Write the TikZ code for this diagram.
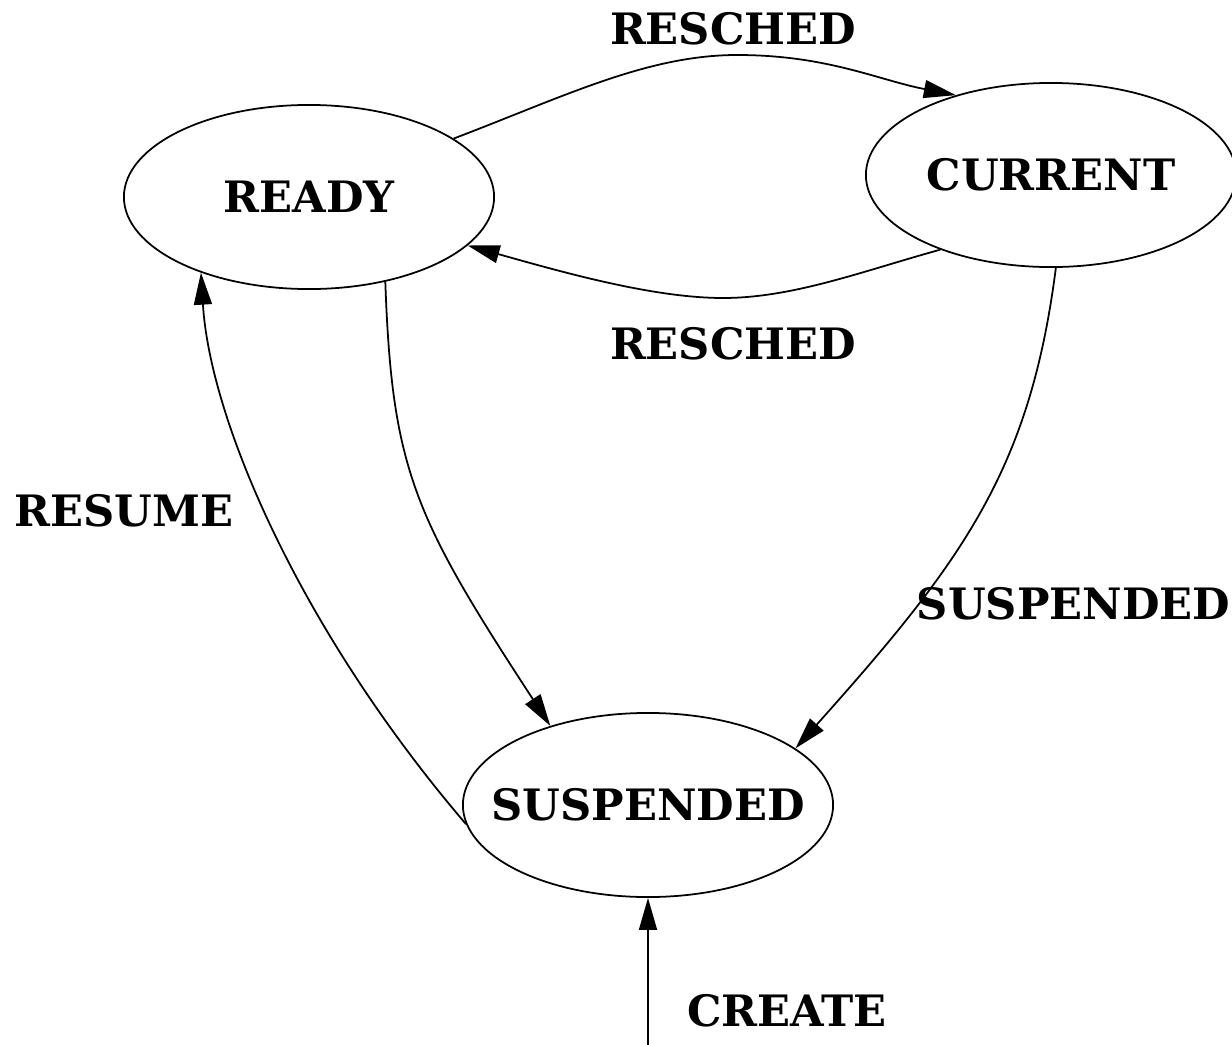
\documentclass[tikz,border=0pt]{standalone}
\usepackage{fontspec}
\setmainfont{DejaVu Serif}
\usetikzlibrary{shapes.geometric,arrows.meta}
\begin{document}
\begin{tikzpicture}[x=0.01cm, y=-0.01cm, line width=0.5pt,
  >={Triangle[length=0.32cm, width=0.18cm]},
  state/.style={draw, ellipse, minimum width=3.7cm, minimum height=1.84cm, inner xsep=-0.6cm, inner ysep=0pt},
  lbl/.style={inner sep=0pt},
  every node/.append style={font=\fontsize{12.3}{15}\selectfont\bfseries}]
\useasboundingbox (0,0) rectangle (1232,1045);
\node[state] (ready) at (309,197) {READY};
\node[state] (current) at (1051,175) {CURRENT};
\node[state] (suspended) at (648,805) {SUSPENDED};
\coordinate (entry) at (648,1050);
\node[lbl] (reschedtop) at (733,29) {RESCHED};
\node[lbl] (reschedbot) at (733,344) {RESCHED};
\node[lbl, anchor=east] (suspendlbl) at (1231,604) {SUSPENDED};
\node[lbl] (resumelbl) at (124,511) {RESUME};
\node[lbl] (createlbl) at (787,1011) {CREATE};
\draw[->] (ready.22) .. controls (563,97) and (647,55) .. (737,55) .. controls (827,55) and (878,80) .. (current.140);
\draw[->] (current.214) .. controls (863,271) and (793,298) .. (723,298) .. controls (653,298) and (562,272) .. (ready.343);
\draw[->] (ready.312) .. controls (392,470) and (414,517) .. (suspended.141);
\draw[->] (current.273) .. controls (1030,470) and (963,561) .. (suspended.21);
\draw[->] (suspended.186) .. controls (300,630) and (210,420) .. (ready.215);
\draw[->] (entry) -- (suspended.south);
\end{tikzpicture}
\end{document}
